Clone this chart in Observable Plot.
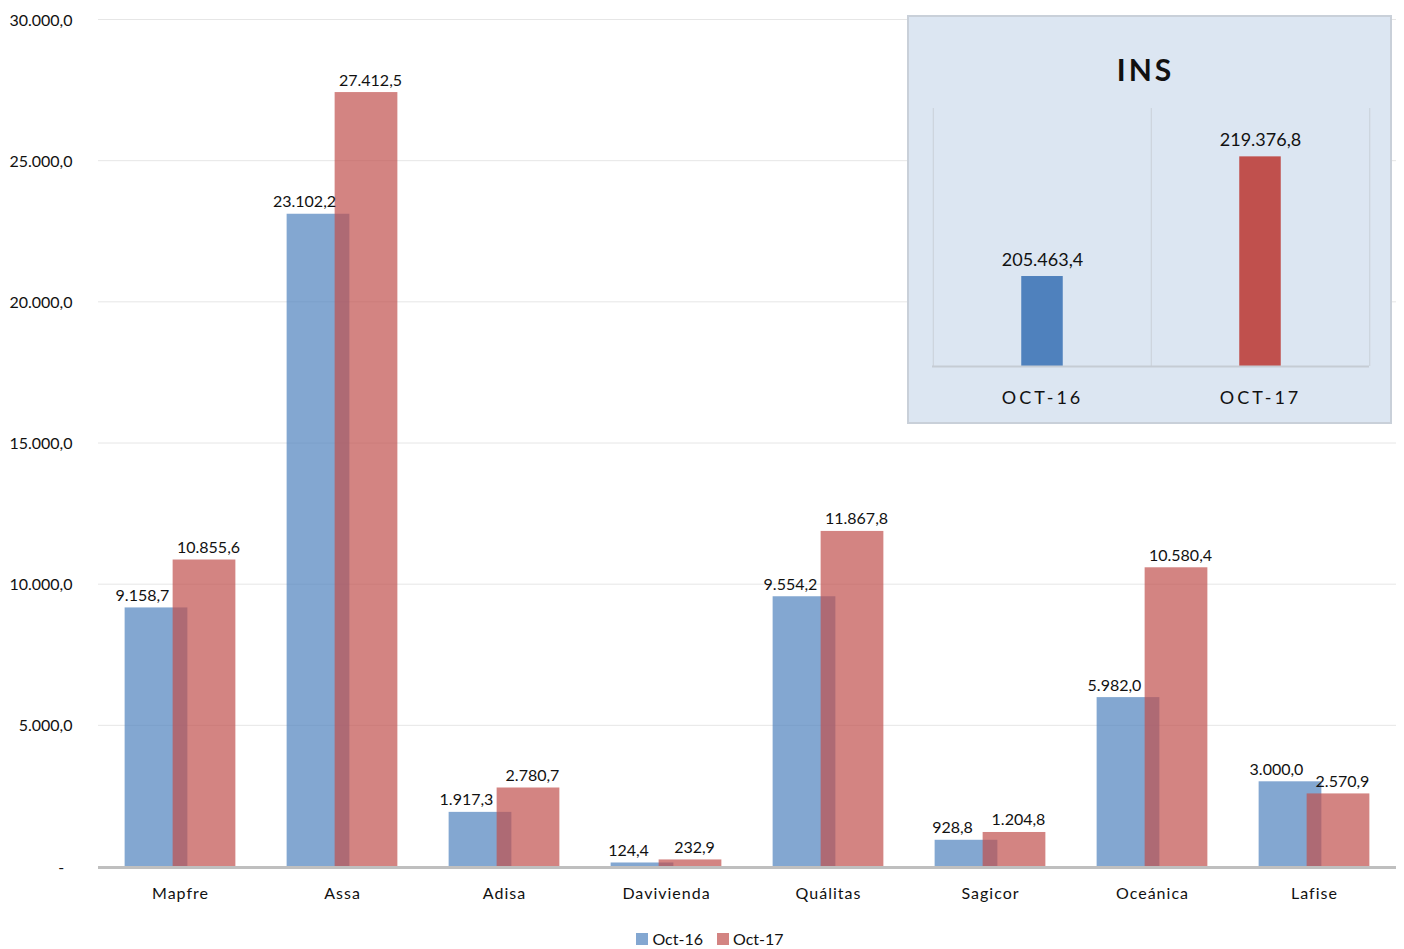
<!DOCTYPE html>
<html>
<head>
<meta charset="utf-8">
<script src="https://cdn.jsdelivr.net/npm/d3@7"></script>
<script src="https://cdn.jsdelivr.net/npm/@observablehq/plot@0.6"></script>
<style>
  html, body { margin: 0; padding: 0; background: #fff; }
  body { width: 1404px; height: 949px; position: relative; overflow: hidden; font-family: Lato, "Open Sans", sans-serif; color: #111; }
  #main { position: absolute; left: 0; top: 0; }
  #main svg [aria-label="x-axis tick label"] text { letter-spacing: 1px; }
  #inset { position: absolute; left: 909px; top: 17px; width: 481px; height: 405px; background: #dce6f2; outline: 2px solid #c9d0d9; }
  #inset .title { position: absolute; left: -4px; width: 100%; top: 34px; text-align: center; font: bold 30px Lato, sans-serif; letter-spacing: 3px; color: #111; }
  #inset .plot { position: absolute; left: 0; top: 0; }
  #inset svg [aria-label="x-axis tick label"] text { letter-spacing: 3px; }
  #legend { position: absolute; left: 8px; width: 1404px; top: 929px; display: flex; justify-content: center; align-items: center; font: 16px Lato, sans-serif; color: #111; }
  #legend .item { display: flex; align-items: center; margin: 0 7px; }
  #legend .sw { width: 12px; height: 12px; margin-right: 4px; }
</style>
</head>
<body>
<div id="main"></div>
<div id="inset"><div class="title">INS</div><div class="plot"></div></div>
<div id="legend"></div>
<script>
const categories = ["Mapfre", "Assa", "Adisa", "Davivienda", "Quálitas", "Sagicor", "Oceánica", "Lafise"];
const seriesNames = ["Oct-16", "Oct-17"];
const oct16 = [9158.7, 23102.2, 1917.3, 124.4, 9554.2, 928.8, 5982.0, 3000.0];
const oct17 = [10855.6, 27412.5, 2780.7, 232.9, 11867.8, 1204.8, 10580.4, 2570.9];
const yTicks = [0, 5000, 10000, 15000, 20000, 25000, 30000];
const insCategories = ["OCT-16", "OCT-17"];
const insValues = [205463.4, 219376.8];
const insDomain = [195000, 225000];

const seriesColors = ["#4f81bd", "#c0504d"];

const loc = d3.formatLocale({decimal: ",", thousands: ".", grouping: [3], currency: ["", ""]});
const fmt = loc.format(",.1f");
const tickFmt = v => v === 0 ? "-\u00a0\u00a0" : fmt(v);

const d16 = categories.map((c, i) => ({cat: c, value: oct16[i], series: seriesNames[0]}));
const d17 = categories.map((c, i) => ({cat: c, value: oct17[i], series: seriesNames[1]}));

const W = 1404, H = 915, ML = 98, MR = 8;
const bw = (W - ML - MR) / categories.length;
const barW = 63;
const inset = (bw - barW) / 2;
const off = 24;

const main = Plot.plot({
  width: W, height: H,
  marginTop: 19, marginBottom: 49, marginLeft: ML, marginRight: MR,
  style: {fontFamily: "Lato, 'Open Sans', sans-serif", fontSize: "16px", color: "#111", background: "transparent"},
  x: {type: "band", domain: categories, padding: 0, label: null},
  y: {domain: [0, 30000], label: null},
  color: {domain: seriesNames, range: seriesColors},
  marks: [
    Plot.gridY(yTicks, {stroke: "#e6e6e6", strokeOpacity: 1}),
    Plot.barY(d16, {x: "cat", y: "value", fill: "series", fillOpacity: 0.7, insetLeft: inset, insetRight: inset, dx: -off}),
    Plot.barY(d17, {x: "cat", y: "value", fill: "series", fillOpacity: 0.7, insetLeft: inset, insetRight: inset, dx: off}),
    Plot.ruleY([0], {stroke: "#bfbfbf", strokeWidth: 3, dy: 1}),
    Plot.text(d16, {x: "cat", y: "value", text: d => fmt(d.value), dx: -off - 14, dy: -7, lineAnchor: "bottom", fill: "#111", fontSize: 16}),
    Plot.text(d17, {x: "cat", y: "value", text: d => fmt(d.value), dx: off + 4, dy: -7, lineAnchor: "bottom", fill: "#111", fontSize: 16}),
    Plot.axisY(yTicks, {tickSize: 0, tickPadding: 26, tickFormat: tickFmt, fontSize: 16, dy: 1, fill: "#111"}),
    Plot.axisX({tickSize: 0, tickPadding: 21, fontSize: 16, fill: "#111"})
  ]
});
document.getElementById("main").appendChild(main);

// Inset INS chart
const IW = 481, IH = 405, IML = 23, IMR = 21;
const ibw = (IW - IML - IMR) / insCategories.length;
const ibarW = 42;
const insData = insCategories.map((c, i) => ({cat: c, value: insValues[i], series: seriesNames[i]}));
const insetPlot = Plot.plot({
  width: IW, height: IH,
  marginTop: 91, marginBottom: 56, marginLeft: IML, marginRight: IMR,
  style: {fontFamily: "Lato, 'Open Sans', sans-serif", fontSize: "18px", color: "#111", background: "transparent"},
  x: {type: "band", domain: insCategories, padding: 0, label: null},
  y: {domain: insDomain, axis: null},
  color: {domain: seriesNames, range: seriesColors},
  marks: [
    Plot.ruleX(insCategories, {x: d => d, dx: -ibw / 2, stroke: "#c9d0d8"}),
    Plot.ruleX(insCategories.slice(-1), {x: d => d, dx: ibw / 2, stroke: "#c9d0d8"}),
    Plot.barY(insData, {x: "cat", y1: insDomain[0], y2: "value", fill: "series", insetLeft: (ibw - ibarW) / 2, insetRight: (ibw - ibarW) / 2}),
    Plot.ruleY([insDomain[0]], {stroke: "#c5ccd4", strokeWidth: 2}),
    Plot.text(insData, {x: "cat", y: "value", text: d => fmt(d.value), dy: -11, lineAnchor: "bottom", fill: "#111", fontSize: 18}),
    Plot.axisX({tickSize: 0, tickPadding: 25, fontSize: 18, fill: "#111"})
  ]
});
document.querySelector("#inset .plot").appendChild(insetPlot);

// Legend
const legend = document.getElementById("legend");
seriesNames.forEach((s, i) => {
  const item = document.createElement("div");
  item.className = "item";
  const sw = document.createElement("div");
  sw.className = "sw";
  sw.style.background = seriesColors[i];
  sw.style.opacity = 0.7;
  const t = document.createElement("span");
  t.textContent = s;
  item.appendChild(sw); item.appendChild(t);
  legend.appendChild(item);
});
</script>
</body>
</html>
